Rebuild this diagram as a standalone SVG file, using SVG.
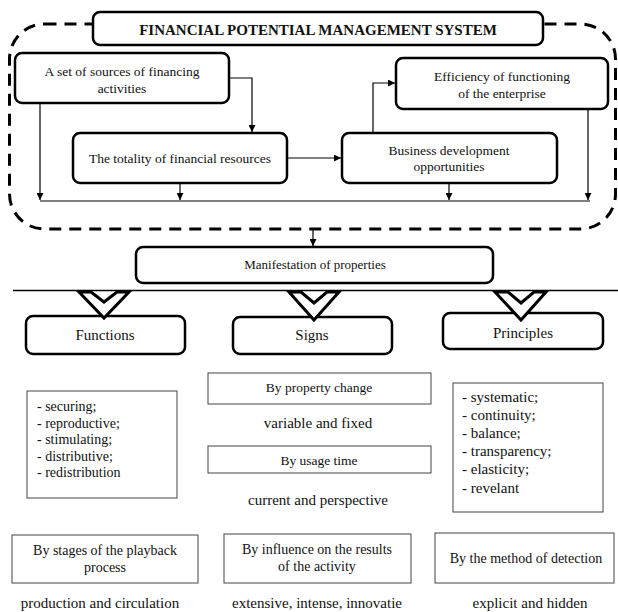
<svg xmlns="http://www.w3.org/2000/svg" width="618" height="612" viewBox="0 0 618 612" font-family="Liberation Serif, DejaVu Serif, serif">
<defs>
<style>
text{font-family:'Liberation Serif','DejaVu Serif',serif;fill:#111;}
.c{text-anchor:middle;}
.t13{font-size:13.5px;}
.t14{font-size:14px;}
.t15{font-size:15px;}
.rb{fill:#fff;stroke:#000;stroke-width:2.5;}
.pb{fill:#fff;stroke:#444;stroke-width:1;}
.ln{fill:none;stroke:#000;stroke-width:1.2;}
.tri{fill:#fff;stroke:#000;stroke-width:3;stroke-linejoin:miter;}
</style>
<marker id="ah" viewBox="0 0 10 10" refX="10" refY="5" markerWidth="7" markerHeight="7" markerUnits="userSpaceOnUse" orient="auto">
<path d="M0,0 L10,5 L0,10 Z" fill="#000"/>
</marker>
</defs>
<rect width="618" height="612" fill="#fff"/>

<g id="container">
<rect x="9.5" y="24" width="606" height="205" rx="35" fill="none" stroke="#000" stroke-width="3" stroke-dasharray="12 8"/>
</g>

<g id="connectors">
<path class="ln" d="M229,78 H252 V132" marker-end="url(#ah)"/>
<path class="ln" d="M40,103 V200" marker-end="url(#ah)"/>
<path class="ln" d="M180,183 V200" marker-end="url(#ah)"/>
<path class="ln" d="M40,201 H590"/>
<path class="ln" d="M287,158 H341" marker-end="url(#ah)"/>
<path class="ln" d="M373,133 V83 H395" marker-end="url(#ah)"/>
<path class="ln" d="M449,183 V200" marker-end="url(#ah)"/>
<path class="ln" d="M588,109 V200" marker-end="url(#ah)"/>
<path class="ln" d="M313,229 V246" marker-end="url(#ah)"/>
<path d="M13,290.5 H618" fill="none" stroke="#000" stroke-width="1.5"/>
</g>

<g id="title">
<rect class="rb" x="93" y="12" width="450" height="33" rx="7"/>
<text class="c" x="318" y="35" style="font-size:15px;font-weight:bold">FINANCIAL POTENTIAL MANAGEMENT SYSTEM</text>
</g>

<g id="sources">
<rect class="rb" x="15" y="53" width="214" height="50" rx="7"/>
<text class="c t13" x="122" y="76">A set of sources of financing</text>
<text class="c t13" x="122" y="93">activities</text>
</g>

<g id="resources">
<rect class="rb" x="73" y="133" width="214" height="50" rx="7"/>
<text class="c t13" x="180" y="163">The totality of financial resources</text>
</g>

<g id="business">
<rect class="rb" x="342" y="133" width="215" height="50" rx="7"/>
<text class="c t13" x="449" y="155">Business development</text>
<text class="c t13" x="449" y="171">opportunities</text>
</g>

<g id="efficiency">
<rect class="rb" x="396" y="58" width="212" height="51" rx="7"/>
<text class="c t13" x="502" y="81">Efficiency of functioning</text>
<text class="c t13" x="502" y="98">of the enterprise</text>
</g>

<g id="manifestation">
<rect class="rb" x="136" y="247" width="357" height="36" rx="7"/>
<text class="c" x="315" y="269" style="font-size:13px">Manifestation of properties</text>
</g>

<g id="functions">
<rect class="rb" x="26" y="316" width="159" height="38" rx="7"/>
<text class="c t15" x="105" y="340">Functions</text>
</g>

<g id="signs">
<rect class="rb" x="233" y="317" width="159" height="37" rx="7"/>
<text class="c t15" x="312" y="340">Signs</text>
</g>

<g id="principles">
<rect class="rb" x="443" y="313" width="160" height="36" rx="7"/>
<text class="c t15" x="523" y="338">Principles</text>
</g>

<g id="triangles">
<path class="tri" d="M79,292 L104,318 L129,292 L117,292 L104,302 L91,292 Z"/>
<path class="tri" d="M289,292 L314,320 L339,292 L327,292 L314,303 L301,292 Z"/>
<path class="tri" d="M495,292 L521,320 L546,292 L534,292 L521,303 L508,292 Z"/>
</g>

<g id="functions-list">
<rect class="pb" x="27" y="391" width="150" height="107"/>
<text class="t14" x="37" y="411">- securing;</text>
<text class="t14" x="37" y="427.5">- reproductive;</text>
<text class="t14" x="37" y="444">- stimulating;</text>
<text class="t14" x="37" y="460.5">- distributive;</text>
<text class="t14" x="37" y="477">- redistribution</text>
</g>

<g id="property-change">
<rect class="pb" x="208" y="373" width="223" height="31"/>
<text class="c t13" x="319" y="391.5">By property change</text>
</g>
<g id="variable">
<text class="c t15" x="318" y="428">variable and fixed</text>
</g>
<g id="usage-time">
<rect class="pb" x="208" y="446" width="223" height="27"/>
<text class="c t13" x="319" y="464.5">By usage time</text>
</g>
<g id="current">
<text class="c t15" x="318" y="505">current and perspective</text>
</g>

<g id="principles-list">
<rect class="pb" x="453" y="383" width="150" height="129"/>
<text class="t15" x="462" y="402">- systematic;</text>
<text class="t15" x="462" y="420">- continuity;</text>
<text class="t15" x="462" y="438">- balance;</text>
<text class="t15" x="462" y="456">- transparency;</text>
<text class="t15" x="462" y="474">- elasticity;</text>
<text class="t15" x="462" y="492.5">- revelant</text>
</g>

<g id="stages">
<rect class="pb" x="12" y="535" width="186" height="48"/>
<text class="c t14" x="105" y="554.5">By stages of the playback</text>
<text class="c t14" x="105" y="572">process</text>
</g>
<g id="production">
<text class="c t15" x="100" y="608">production and circulation</text>
</g>

<g id="influence">
<rect class="pb" x="224" y="534" width="187" height="49"/>
<text class="c t14" x="317" y="553.5">By influence on the results</text>
<text class="c t14" x="317" y="571">of the activity</text>
</g>
<g id="extensive">
<text class="c t15" x="317" y="608">extensive, intense, innovatie</text>
</g>

<g id="detection">
<rect class="pb" x="435" y="533" width="179" height="50"/>
<text class="c t14" x="526" y="563">By the method of detection</text>
</g>
<g id="explicit">
<text class="c t15" x="530" y="608">explicit and hidden</text>
</g>
</svg>
